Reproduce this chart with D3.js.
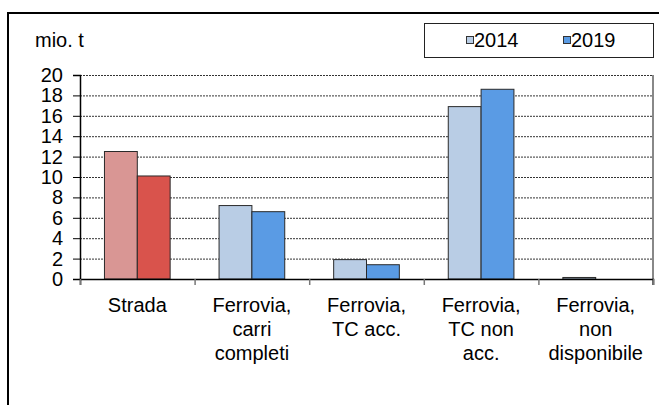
<!doctype html>
<html lang="it">
<head>
    <meta charset="UTF-8">
    <title>Trasporto merci</title>
    <script src="https://d3js.org/d3.v7.min.js"></script>
    <style>
        body { margin: 0; background: #fff; }
        svg { display: block; }
        text { font-family: "Liberation Sans", Arial, sans-serif; fill: #000; }
    </style>
</head>
<body>
    <svg width="659" height="405"></svg>
    <script>
        const categories = [
            ['Strada'],
            ['Ferrovia,', 'carri', 'completi'],
            ['Ferrovia,', 'TC acc.'],
            ['Ferrovia,', 'TC non', 'acc.'],
            ['Ferrovia,', 'non', 'disponibile']
        ];
        const years = ['2014', '2019'];
        const values2014 = [12.5, 7.2, 1.9, 16.9, 0.15];
        const values2019 = [10.1, 6.6, 1.4, 18.6, 0];
        const yTicks = [0, 2, 4, 6, 8, 10, 12, 14, 16, 18, 20];

        // road bars are red, rail bars blue
        const colors = {
            road: ['#d99694', '#d9534c'],
            rail: ['#b9cde5', '#5a9be4']
        };
        const fontSize = '20px';

        const svg = d3.select('svg');
        const marginLeft = 80, marginTop = 75, width = 573, height = 204;

        // outer frame (runs off the picture right and bottom)
        svg.append('rect')
            .attr('x', 8).attr('y', 13)
            .attr('width', 700).attr('height', 450)
            .attr('fill', 'none').attr('stroke', '#000').attr('stroke-width', 2);

        svg.append('text')
            .attr('x', 35).attr('y', 47)
            .style('font-size', fontSize)
            .text('mio. t');

        const chart = svg.append('g')
            .attr('transform', `translate(${marginLeft}, ${marginTop})`);

        const idx = d3.range(categories.length);
        const x0 = d3.scaleBand().domain(idx).range([0, width]).padding(0);
        const x1 = d3.scaleBand().domain(years).range([0, x0.bandwidth()])
            .paddingInner(0).paddingOuter(0.745);
        const y = d3.scaleLinear().domain([0, 20]).range([height, 0]);
        const xEdge = d3.scaleLinear().domain([0, categories.length]).range([0, width]);

        // grid
        chart.append('g').selectAll('line')
            .data(yTicks.filter(d => d > 0))
            .enter().append('line')
            .attr('x1', 0).attr('x2', width)
            .attr('y1', d => y(d) + 0.5).attr('y2', d => y(d) + 0.5)
            .attr('stroke', '#333').attr('stroke-width', 1)
            .attr('stroke-dasharray', '2,1');

        // right border of plot area
        chart.append('line')
            .attr('x1', width).attr('x2', width)
            .attr('y1', 0).attr('y2', height + 6)
            .attr('stroke', '#888').attr('stroke-width', 2);

        // bars
        const rows = idx.map(i => ({ i, vals: [values2014[i], values2019[i]] }));
        const groups = chart.selectAll('.grp')
            .data(rows)
            .enter().append('g')
            .attr('transform', d => `translate(${x0(d.i)}, 0)`);

        groups.selectAll('rect')
            .data(d => d.vals.map((v, k) => ({ cat: d.i, year: years[k], k, v })))
            .enter().append('rect')
            .attr('x', d => x1(d.year))
            .attr('y', d => y(d.v))
            .attr('width', x1.bandwidth())
            .attr('height', d => height - y(d.v))
            .attr('fill', d => (d.cat === 0 ? colors.road : colors.rail)[d.k])
            .attr('stroke', '#2a2a2a')
            .attr('stroke-width', 1)
            .style('display', d => d.v > 0 ? null : 'none');

        // y axis
        const yAxis = chart.append('g')
            .call(d3.axisLeft(y).tickValues(yTicks).tickSize(7).tickPadding(10));
        yAxis.select('.domain').attr('stroke', '#000').attr('stroke-width', 1.5);
        yAxis.selectAll('.tick line').attr('stroke', '#000');
        yAxis.selectAll('text').style('font-size', fontSize).attr('fill', '#000');

        // x axis: ticks between categories
        const xAxis = chart.append('g')
            .attr('transform', `translate(0, ${height})`)
            .call(d3.axisBottom(xEdge).tickValues(d3.range(categories.length + 1))
                .tickSize(6).tickFormat(''));
        xAxis.select('.domain').attr('stroke', '#000').attr('stroke-width', 1.5);
        xAxis.selectAll('.tick line').attr('stroke', '#777').attr('stroke-width', 1.5);

        // category labels
        const xLabels = chart.append('g')
            .attr('transform', `translate(0, ${height})`)
            .call(d3.axisBottom(x0).tickSize(0).tickFormat(''));
        xLabels.select('.domain').remove();
        xLabels.selectAll('.tick').append('text')
            .attr('text-anchor', 'middle')
            .style('font-size', fontSize)
            .selectAll('tspan')
            .data(i => categories[i])
            .enter().append('tspan')
            .attr('x', 0)
            .attr('y', (d, j) => 33 + j * 24)
            .text(d => d);

        // legend
        const legend = svg.append('g');
        legend.append('rect')
            .attr('x', 424.5).attr('y', 23.5)
            .attr('width', 229).attr('height', 34)
            .attr('fill', '#fff').attr('stroke', '#222').attr('stroke-width', 1);
        const lx = [466, 563];
        years.forEach((yr, k) => {
            legend.append('rect')
                .attr('x', lx[k] + 0.5).attr('y', 36.5)
                .attr('width', 7).attr('height', 7)
                .attr('fill', colors.rail[k]).attr('stroke', '#333');
            legend.append('text')
                .attr('x', lx[k] + 8).attr('y', 47)
                .style('font-size', fontSize)
                .text(yr);
        });
    </script>
</body>
</html>
